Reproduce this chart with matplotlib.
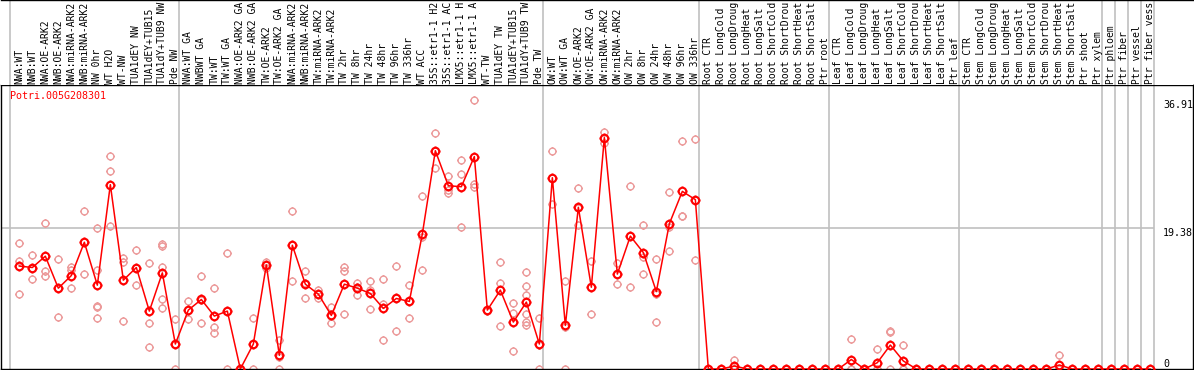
import numpy as np
import matplotlib
matplotlib.use("Agg")
import matplotlib.pyplot as plt
from matplotlib.path import Path

plt.rcParams['font.family'] = 'DejaVu Sans Mono'

gene = "Potri.005G208301"

# sample names as shown (the header cuts them at 14 characters)
labels = ["NWA:WT", "NWB:WT", "NWA:OE-ARK2", "NWB:OE-ARK2", "NWA:miRNA-ARK2", "NWB:miRNA-ARK2",
          "NW 0hr", "WT H2O", "WT-NW", "TUA1dEY NW", "TUA1dEY+TUB15", "TUA1dY+TUB9 NW", "Pde NW",
          "NWA:WT GA", "NWBWT GA", "TW:WT", "TW:WT GA", "NWA:OE-ARK2 GA", "NWB:OE-ARK2 GA",
          "TW:OE-ARK2", "TW:OE-ARK2 GA", "NWA:miRNA-ARK2", "NWB:miRNA-ARK2", "TW:miRNA-ARK2",
          "TW:miRNA-ARK2", "TW 2hr", "TW 8hr", "TW 24hr", "TW 48hr", "TW 96hr", "TW 336hr", "WT ACC",
          "35S::etr1-1 H2", "35S::etr1-1 AC", "LMX5::etr1-1 H", "LMX5::etr1-1 A", "WT-TW",
          "TUA1dEY TW", "TUA1dEY+TUB15", "TUA1dY+TUB9 TW", "Pde TW",
          "OW:WT", "OW:WT GA", "OW:OE-ARK2", "OW:OE-ARK2 GA", "OW:miRNA-ARK2", "OW:miRNA-ARK2",
          "OW 2hr", "OW 8hr", "OW 24hr", "OW 48hr", "OW 96hr", "OW 336hr",
          "Root CTR", "Root LongCold", "Root LongDroug", "Root LongHeat", "Root LongSalt",
          "Root ShortCold", "Root ShortDrou", "Root ShortHeat", "Root ShortSalt", "Ptr root",
          "Leaf CTR", "Leaf LongCold", "Leaf LongDroug", "Leaf LongHeat", "Leaf LongSalt",
          "Leaf ShortCold", "Leaf ShortDrou", "Leaf ShortHeat", "Leaf ShortSalt", "Ptr leaf",
          "Stem CTR", "Stem LongCold", "Stem LongDroug", "Stem LongHeat", "Stem LongSalt",
          "Stem ShortCold", "Stem ShortDrou", "Stem ShortHeat", "Stem ShortSalt", "Ptr shoot",
          "Ptr xylem", "Ptr phloem", "Ptr fiber", "Ptr vessel", "Ptr fiber vess"]

# first sample index of every group (separator lines)
group_starts = [0, 13, 41, 53, 63, 73, 84, 85, 86, 87, 88]

means = [14.1, 13.9, 15.45, 11.07, 12.8, 17.36, 11.48, 25.25, 12.17, 13.9, 7.93, 13.17, 3.42,
         8.07, 9.52, 7.25, 7.93, 0.0, 3.42, 14.26, 1.87, 16.95, 11.62, 10.25, 7.34, 11.62, 11.07,
         10.35, 8.3, 9.66, 9.25, 18.5, 29.9, 25.1, 24.97, 29.1, 8.07, 10.8, 6.43, 9.16, 3.42,
         26.2, 5.97, 22.15, 11.2, 31.7, 13.0, 18.2, 15.95, 10.6, 19.9, 24.33, 23.2,
         0, 0, 0.41, 0, 0, 0, 0, 0, 0, 0,
         0, 1.3, 0, 0.87, 3.28, 1.1, 0, 0, 0, 0,
         0, 0, 0, 0, 0, 0, 0, 0.55, 0, 0, 0,
         0, 0, 0, 0]

reps = [[17.2, 14.8, 10.25], [15.58, 12.26, 13.86], [20.05, 13.4, 12.8], [15.0, 7.07, 11.1],
        [14.0, 13.5, 11.07], [21.7, 13.0, 17.4], [19.37, 13.6, 8.65, 8.5, 6.93],
        [29.2, 27.16, 19.64], [15.2, 14.6, 6.56], [16.36, 11.44, 13.9], [14.58, 6.24, 2.96],
        [17.18, 16.86, 14.0, 9.57, 8.3], [6.84, 0.0, 3.37],
        [9.3, 6.84, 8.07], [12.7, 6.33, 9.5], [11.03, 5.79, 4.97], [15.86, 0.0, 7.9], [0, 0, 0],
        [6.93, 0, 3.4], [14.7, 13.8, 14.3], [3.96, 0, 1.6], [21.7, 12.1, 17.0],
        [13.36, 9.66, 11.8], [10.8, 10.3, 9.7], [8.52, 6.24, 7.3], [14.0, 13.4, 7.52],
        [11.8, 11.3, 10.07], [12.1, 10.8, 8.2], [12.26, 8.84, 3.96], [14.08, 5.2, 9.7],
        [11.48, 6.93, 9.3], [23.7, 18.1, 13.6], [32.26, 27.5, 29.9], [26.4, 24.56, 24.15],
        [28.57, 26.66, 19.5], [36.91, 24.92, 25.4], [8.0, 8.1, 8.1], [14.7, 11.76, 5.83],
        [9.02, 7.66, 2.42], [13.26, 11.35, 10.1, 7.6, 6.47, 6.0], [6.93, 0, 3.3],
        [29.8, 22.6, 26.2], [12.1, 0, 5.8], [24.74, 19.7, 22.0], [14.86, 7.52, 11.2],
        [32.4, 31.0, 31.7], [14.5, 11.6, 13.0], [25.1, 11.2, 18.2], [19.7, 15.35, 13.0],
        [15.1, 6.43, 10.3], [24.3, 19.5, 16.1], [31.2, 20.9, 20.9], [31.5, 14.9, 23.2],
        [0, 0, 0], [0, 0, 0], [1.3, 0, 0], [0, 0, 0], [0, 0, 0], [0, 0, 0], [0, 0, 0],
        [0, 0, 0], [0, 0, 0], [0, 0, 0],
        [0, 0, 0], [4.06, 0, 0], [0, 0, 0], [2.7, 0, 0], [5.24, 5.0, 0], [3.28, 0, 0],
        [0, 0, 0], [0, 0, 0], [0, 0, 0], [0, 0, 0],
        [0, 0, 0], [0, 0, 0], [0, 0, 0], [0, 0, 0], [0, 0, 0], [0, 0, 0], [0, 0, 0],
        [1.9, 0, 0], [0, 0, 0], [0, 0, 0], [0, 0, 0],
        [0, 0, 0], [0, 0, 0], [0, 0, 0], [0, 0, 0]]

ytick_vals = [36.91, 19.38, 0]
ytick_text = ["36.91", "19.38", "0"]
ymax = 38.9

W, H = 1194, 370
fig = plt.figure(figsize=(W / 100, H / 100), dpi=100)
ax = fig.add_axes([1 / W, 1 / H, 1192 / W, 284 / H])
hax = fig.add_axes([1 / W, 285 / H, 1192 / W, 85 / H], sharex=ax)

x = np.arange(len(means))
ax.set_xlim(-1.41, 90.28)
ax.set_ylim(0, ymax)
hax.set_ylim(0, 85)

# circle with small tick marks
stubs = Path([(0, 1), (0, 1.3), (0, -1), (0, -1.3), (1, 0), (1.3, 0), (-1, 0), (-1.3, 0)],
             [Path.MOVETO, Path.LINETO] * 4)
ring = Path.make_compound_path(Path.unit_circle(), stubs)

sep = [k - 0.715 for k in group_starts]
for s in sep:
    ax.axvline(s, color='#c0c0c0', lw=1.2, zorder=1)
    hax.axvline(s, color='#c0c0c0', lw=1.2, zorder=1)
ax.hlines(ytick_vals[1], -1.41, sep[-1], color='#c0c0c0', lw=1.2, zorder=1)

for i, r in enumerate(reps):
    ax.plot([i] * len(r), r, ls='none', marker=ring, ms=6.4, mew=1.0,
            mec='#ec9a9a', mfc='none', zorder=2)
ax.plot(x, means, color='red', lw=1.1, zorder=3)
ax.plot(x, means, ls='none', marker=ring, ms=7.0, mew=1.5, mec='red', mfc='none', zorder=4)

for i, lab in enumerate(labels):
    hax.text(i, 1, lab, rotation=90, ha='center', va='bottom', fontsize=7.0, color='black')

ax.text(0.0076, 0.979, gene, transform=ax.transAxes, color='red', fontsize=7.2,
        ha='left', va='top')
for v, t in zip(ytick_vals, ytick_text):
    ax.text(87.98, v, t, fontsize=7.2, ha='left', va='bottom' if v == 0 else 'top')

for a in (ax, hax):
    a.set_xticks([])
    a.set_yticks([])
for sp in ax.spines.values():
    sp.set_color('black')
    sp.set_linewidth(1.0)
for name, sp in hax.spines.items():
    sp.set_visible(name == 'top')
    sp.set_linewidth(1.0)

fig.savefig("out.png", dpi=100)
